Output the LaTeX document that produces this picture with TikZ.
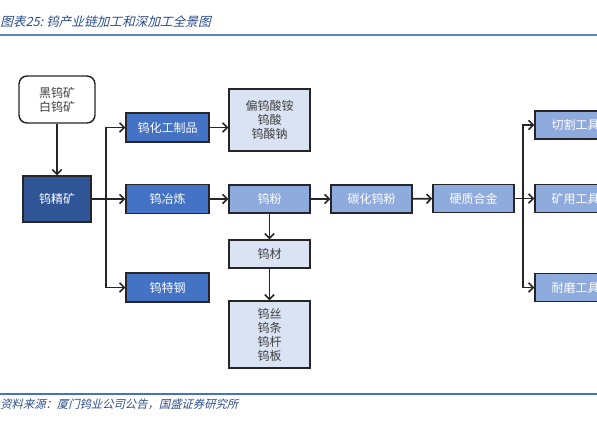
\documentclass[tikz,border=0pt]{standalone}
\usepackage{fontspec}
\newfontfamily\cjk{Noto Sans CJK SC}
\newfontfamily\cjkpenche[FakeSlant=0.25]{Noto Sans CJK SC}
\usetikzlibrary{arrows.meta}
\definecolor{bleufonce}{HTML}{2F5597}
\definecolor{bleumoyen}{HTML}{4472C4}
\definecolor{bleuclair}{HTML}{8FAADC}
\definecolor{bleupale}{HTML}{DAE3F3}
\definecolor{trait}{HTML}{262626}
\definecolor{gristexte}{HTML}{404040}
\definecolor{bleutitre}{HTML}{2B4C8C}
\definecolor{bleuligne}{HTML}{5B82C4}

\begin{document}
\begin{tikzpicture}  % ------ La filiere du tungstene ------------------
      [x=0.75pt,y=-0.75pt,
       boite/.style={draw=trait,line width=1.1pt,inner sep=0pt,
          minimum width=60.75pt,minimum height=21pt,align=center,
          font=\cjk\fontsize{9}{10.5}\selectfont},
       fonce/.style={boite,fill=bleufonce,text=white,minimum width=51pt,minimum height=34.5pt},
       moyen/.style={boite,fill=bleumoyen,text=white,minimum width=62.25pt,minimum height=21.75pt},
       clair/.style={boite,fill=bleuclair,text=white},
       pale/.style={boite,fill=bleupale,text=gristexte},
       fleche/.style={line width=1.2pt,draw=trait,-{Straight Barb[length=3.5pt,width=7pt]}}]
    \useasboundingbox (0,0) rectangle (597,436);
    \clip (0,0) rectangle (597,436);
    \node [anchor=west,inner sep=0pt,text=bleutitre,font=\cjkpenche\fontsize{9.5}{11}\selectfont] (titre) at (0,22) {图表25:\ 钨产业链加工和深加工全景图};
    \draw [bleuligne,line width=1pt] (0,35)--(597,35);
    \node [boite,rounded corners=6pt,fill=white,text=gristexte,minimum width=57pt,minimum height=35.25pt] (minerai) at (57,99.5) {黑钨矿\\白钨矿};
    \node [fonce] (concentre) at (57,199) {钨精矿};
    \node [moyen] (chimie) at (167.5,127.5) {钨化工制品};
    \node [moyen] (fonderie) at (167.5,199) {钨冶炼};
    \node [moyen] (acier) at (167.5,287.5) {钨特钢};
    \node [pale,minimum height=46.5pt] (sels) at (269.5,120) {偏钨酸铵\\钨酸\\钨酸钠};
    \node [clair] (poudre) at (269.5,199) {钨粉};
    \node [pale] (produits) at (269.5,254) {钨材};
    \node [pale,minimum height=50.25pt] (fils) at (269.5,334.5) {钨丝\\钨条\\钨杆\\钨板};
    \node [clair] (carbure) at (371.5,199) {碳化钨粉};
    \node [clair] (alliage) at (473.5,198.5) {硬质合金};
    \node [clair] (coupe) at (575.5,125) {切割工具};
    \node [clair] (mine) at (575.5,198.5) {矿用工具};
    \node [clair] (usure) at (575.5,287.5) {耐磨工具};
    \coordinate (emb1) at (106,199);
    \coordinate (emb2) at (523,198.5);
    \draw [fleche] (minerai)--(concentre);
    \draw [fleche] (concentre)--(fonderie);
    \draw [fleche] (emb1) |- (chimie);
    \draw [fleche] (emb1) |- (acier);
    \draw [fleche] (chimie.east)--(chimie.east -| sels.west);
    \draw [fleche] (fonderie)--(poudre);
    \draw [fleche] (poudre)--(carbure);
    \draw [fleche] (carbure)--(alliage);
    \draw [fleche] (poudre)--(produits);
    \draw [fleche] (produits)--(fils);
    \draw [fleche] (alliage)--(mine);
    \draw [fleche] (emb2) |- (coupe);
    \draw [fleche] (emb2) |- (usure);
    \draw [bleumoyen,line width=1.1pt] (0,394)--(597,394);
    \node [anchor=west,inner sep=0pt,text=bleutitre,font=\cjkpenche\fontsize{8.5}{10}\selectfont] (source) at (0,404) {资料来源：厦门钨业公司公告，国盛证券研究所};
\end{tikzpicture}
\end{document}
